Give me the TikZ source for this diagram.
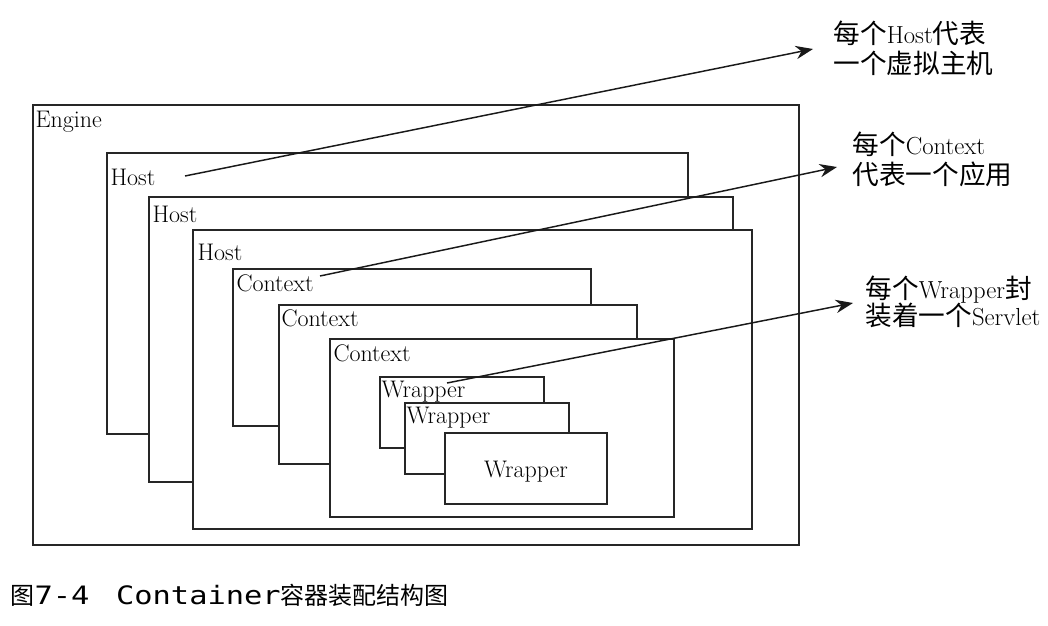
\documentclass[tikz,border=0pt]{standalone}
\usepackage{fontspec}
\usetikzlibrary{arrows.meta,fit,calc}
\newfontfamily\cjk[Scale=1.08]{Noto Sans CJK SC}
\newfontfamily\capcjk{Noto Sans CJK SC}
\newfontfamily\capmono[FakeStretch=1.2]{DejaVu Sans Mono}

\tikzset{every picture/.style={line width=0.75pt}}
\tikzset{
  box/.style={draw=black!85, fill=white, line width=0.9pt, inner sep=0pt},
  lbl/.style={inner sep=0pt, font=\fontsize{18}{21}\selectfont},
  note/.style={inner sep=0pt, align=left, font=\fontsize{18.5}{22.5}\selectfont},
  pointer/.style={draw=black!90, line width=1.1pt, -{Stealth[length=13pt,width=10pt]}}
}

\begin{document}
\begin{tikzpicture}[x=0.75pt,y=0.75pt,yscale=-1,xscale=1]
\useasboundingbox (0,0) rectangle (1048,625);

%Containers, outer to inner
\node[box, fit={(33,105) (799,545)}] (engine) {};
\node[box, fit={(107,153) (688,434)}] (host1) {};
\node[box, fit={(149,197) (733,482)}] (host2) {};
\node[box, fit={(193,230) (752,529)}] (host3) {};
\node[box, fit={(233,269) (591,426)}] (ctx1) {};
\node[box, fit={(279,305) (637,464)}] (ctx2) {};
\node[box, fit={(330,339) (674,517)}] (ctx3) {};
\node[box, fit={(380,377) (544,448)}] (wrp1) {};
\node[box, fit={(405,403) (569,474)}] (wrp2) {};
\node[box, fit={(445,433) (607,504)}] (wrp3) {};

% Text Node
\node[lbl, anchor=base west] (enginel) at (35,127) {Engine};
\node[lbl, anchor=base west] (host1l) at (110,185) {Host};
\node[lbl, anchor=base west] (host2l) at (152,222) {Host};
\node[lbl, anchor=base west] (host3l) at (197,260) {Host};
\node[lbl, anchor=base west] (ctx1l) at (236,291) {Context};
\node[lbl, anchor=base west] (ctx2l) at (281,326) {Context};
\node[lbl, anchor=base west] (ctx3l) at (333,361) {Context};
\node[lbl, anchor=base west] (wrp1l) at (381,397) {Wrapper};
\node[lbl, anchor=base west] (wrp2l) at (406,423) {Wrapper};
\node[lbl, anchor=base] (wrp3l) at (526,477) {Wrapper};

%Notes
\node[note, anchor=west] (hostnote) at (833,48) {{\cjk 每个}Host{\cjk 代表}\\{\cjk 一个虚拟主机}};
\node[note, anchor=west] (ctxnote) at (852,159) {{\cjk 每个}Context\\{\cjk 代表一个应用}};
\node[note, anchor=west] (wrpnote) at (865,302) {{\cjk 每个}Wrapper{\cjk 封}\\[-2pt]{\cjk 装着一个}Servlet};

%Pointers
\coordinate (hoststart) at (185,176);
\coordinate (ctxstart) at (320,276);
\coordinate (wrpstart) at (447,383);
\coordinate (hosttip) at ($(hostnote.west)+(-20,1)$);
\coordinate (ctxtip) at ($(ctxnote.west)+(-15,8)$);
\coordinate (wrptip) at ($(wrpnote.west)+(-12,1)$);
\draw[pointer] (hoststart) -- (hosttip);
\draw[pointer] (ctxstart) -- (ctxtip);
\draw[pointer] (wrpstart) -- (wrptip);

%Caption
\node[inner sep=0pt, anchor=base west] (caption) at (10,604) {\fontsize{18}{20}\selectfont{\capcjk 图}{\capmono\fontsize{19}{22}\selectfont 7-4\hspace{20pt}Container}{\capcjk 容器装配结构图}};

\end{tikzpicture}
\end{document}
